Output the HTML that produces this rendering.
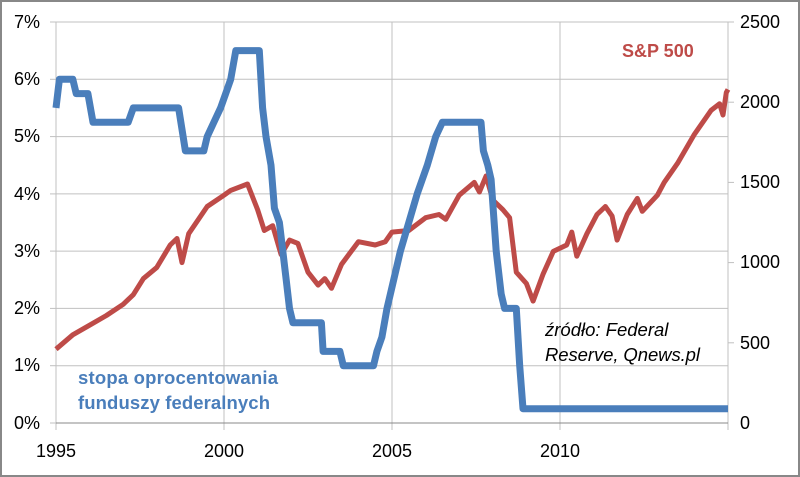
<!DOCTYPE html>
<html><head><meta charset="utf-8"><style>
body{margin:0;background:#fff}
svg{display:block;font-family:"Liberation Sans",sans-serif}
</style></head><body>
<svg id="s" width="800" height="477" viewBox="0 0 800 477">
<rect x="1" y="1" width="798" height="475" fill="#fff" stroke="#888" stroke-width="2"/>
<g stroke="#c0c0c0" stroke-width="1">
<line x1="56" x2="728" y1="22" y2="22"/><line x1="56" x2="728" y1="79.3" y2="79.3"/>
<line x1="56" x2="728" y1="136.6" y2="136.6"/><line x1="56" x2="728" y1="193.9" y2="193.9"/>
<line x1="56" x2="728" y1="251.1" y2="251.1"/><line x1="56" x2="728" y1="308.4" y2="308.4"/>
<line x1="56" x2="728" y1="365.7" y2="365.7"/>
<line x1="224" x2="224" y1="22" y2="430"/><line x1="392" x2="392" y1="22" y2="430"/>
<line x1="560" x2="560" y1="22" y2="430"/><line x1="56" x2="56" y1="22" y2="430"/>
<line x1="728" x2="728" y1="22" y2="430"/>
<line x1="50" x2="56" y1="22" y2="22"/><line x1="50" x2="56" y1="79.3" y2="79.3"/><line x1="50" x2="56" y1="136.6" y2="136.6"/><line x1="50" x2="56" y1="193.9" y2="193.9"/><line x1="50" x2="56" y1="251.1" y2="251.1"/><line x1="50" x2="56" y1="308.4" y2="308.4"/><line x1="50" x2="56" y1="365.7" y2="365.7"/><line x1="50" x2="56" y1="423" y2="423"/>
<line x1="728" x2="734" y1="22" y2="22"/><line x1="728" x2="734" y1="102.2" y2="102.2"/><line x1="728" x2="734" y1="182.4" y2="182.4"/><line x1="728" x2="734" y1="262.6" y2="262.6"/><line x1="728" x2="734" y1="342.8" y2="342.8"/>
</g>
<line x1="56" x2="728" y1="423" y2="423" stroke="#888"/>
<g font-size="18" fill="#000" text-anchor="end">
<text x="40" y="28">7%</text><text x="40" y="85">6%</text><text x="40" y="142">5%</text><text x="40" y="200">4%</text><text x="40" y="257">3%</text><text x="40" y="314">2%</text><text x="40" y="371">1%</text><text x="40" y="429">0%</text>
</g>
<g font-size="18" fill="#000">
<text x="740" y="28">2500</text><text x="740" y="108">2000</text><text x="740" y="188">1500</text><text x="740" y="268">1000</text><text x="740" y="349">500</text><text x="740" y="429">0</text>
</g>
<g font-size="18" fill="#000" text-anchor="middle">
<text x="56" y="457">1995</text><text x="224" y="457">2000</text><text x="392" y="457">2005</text><text x="560" y="457">2010</text>
</g>
<polyline id="sp" fill="none" stroke="#be4b48" stroke-width="5" stroke-linejoin="round"/>
<polyline id="ff" fill="none" stroke="#4a7ebb" stroke-width="7" stroke-linejoin="round"/>
<text x="622" y="57" font-size="18" font-weight="bold" fill="#be4b48">S&amp;P 500</text>
<text x="78" y="384" font-size="18.5" font-weight="bold" fill="#4a7ebb" textLength="200">stopa oprocentowania</text>
<text x="78" y="409" font-size="18.5" font-weight="bold" fill="#4a7ebb" textLength="192">funduszy federalnych</text>
<text x="545" y="336" font-size="18.5" font-style="italic" fill="#000">źródło: Federal</text>
<text x="545" y="361" font-size="18.5" font-style="italic" fill="#000" textLength="155">Reserve, Qnews.pl</text>
</svg>
<script>
var X=function(t){return 56+(t-1995)*33.6};
var ff=[[1995,5.5],[1995.1,6],[1995.5,6],[1995.6,5.75],[1995.95,5.75],[1996.1,5.25],[1997.15,5.25],[1997.3,5.5],[1998.65,5.5],[1998.85,4.75],[1999.4,4.75],[1999.5,5],[1999.7,5.25],[1999.9,5.5],[2000.05,5.75],[2000.2,6],[2000.35,6.5],[2001.05,6.5],[2001.15,5.5],[2001.25,5],[2001.4,4.5],[2001.5,3.75],[2001.65,3.5],[2001.75,3],[2001.85,2.5],[2001.95,2],[2002.05,1.75],[2002.9,1.75],[2002.95,1.25],[2003.45,1.25],[2003.55,1],[2004.45,1],[2004.55,1.25],[2004.7,1.5],[2004.85,2],[2005.05,2.5],[2005.25,3],[2005.5,3.5],[2005.75,4],[2006.05,4.5],[2006.3,5],[2006.5,5.25],[2007.65,5.25],[2007.72,4.75],[2007.85,4.5],[2007.95,4.25],[2008.1,3],[2008.25,2.25],[2008.35,2],[2008.7,2],[2008.8,1],[2008.9,0.25],[2015,0.25]];
var sp=[[1995,460],[1995.5,550],[1996,610],[1996.5,670],[1997,740],[1997.3,800],[1997.6,900],[1998,970],[1998.4,1110],[1998.6,1150],[1998.75,1000],[1998.95,1180],[1999.5,1350],[2000,1420],[2000.2,1450],[2000.7,1490],[2001,1330],[2001.2,1200],[2001.45,1230],[2001.7,1050],[2001.95,1140],[2002.2,1120],[2002.5,940],[2002.8,860],[2003.0,900],[2003.2,840],[2003.5,990],[2004,1130],[2004.5,1110],[2004.8,1130],[2005,1190],[2005.5,1200],[2006,1280],[2006.4,1300],[2006.6,1270],[2007,1420],[2007.45,1500],[2007.6,1440],[2007.8,1540],[2008,1390],[2008.3,1330],[2008.5,1280],[2008.7,940],[2009,870],[2009.2,760],[2009.5,930],[2009.8,1070],[2010.2,1110],[2010.35,1190],[2010.5,1040],[2010.8,1180],[2011.1,1300],[2011.35,1350],[2011.55,1290],[2011.7,1140],[2012,1300],[2012.3,1400],[2012.45,1320],[2012.9,1420],[2013.1,1500],[2013.5,1620],[2014,1800],[2014.5,1950],[2014.75,1990],[2014.85,1920],[2014.95,2060],[2015,2080]];
document.getElementById('ff').setAttribute('points',ff.map(function(p){return X(p[0]).toFixed(1)+','+(423-p[1]*57.29).toFixed(1)}).join(' '));
document.getElementById('sp').setAttribute('points',sp.map(function(p){return X(p[0]).toFixed(1)+','+(423-p[1]*0.1604).toFixed(1)}).join(' '));
</script>
</body></html>
